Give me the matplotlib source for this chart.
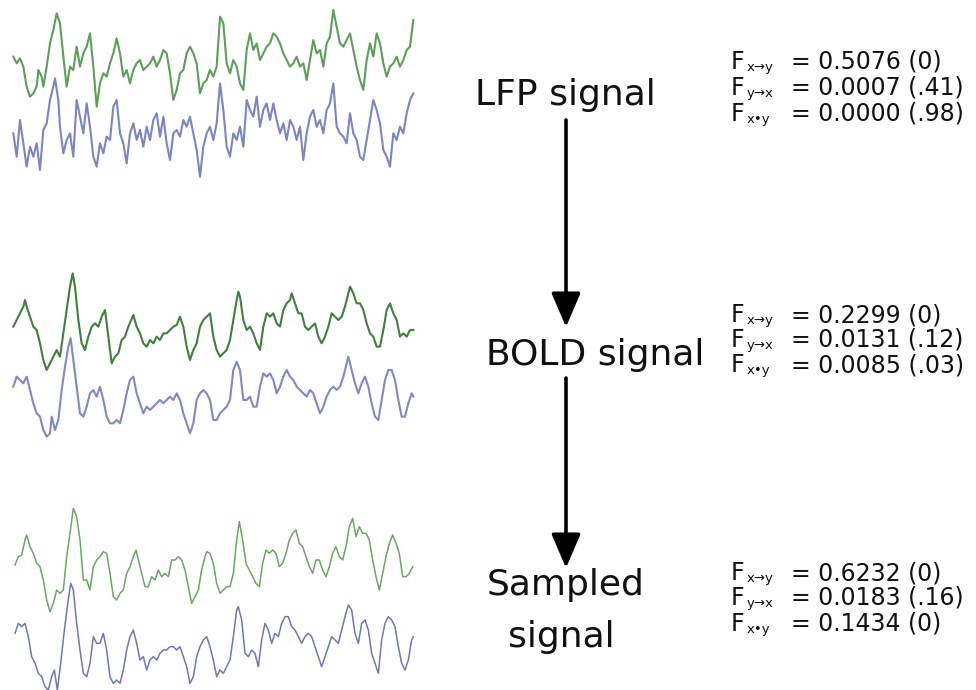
import matplotlib
matplotlib.use("Agg")
import matplotlib.pyplot as plt
import numpy as np

# traces: (sample position, level), level grows downward
lfp_x = [(40,170),(50,190),(60,175),(70,200),(80,260),(90,290),(100,280),(110,260),(115,210),(125,230),
         (130,260),(140,200),(150,130),(160,90),(170,40),(180,70),(190,170),(200,260),(210,200),(220,210),
         (230,140),(240,200),(250,160),(260,140),(270,100),(280,200),(290,320),(300,250),(310,220),(320,230),
         (330,190),(340,160),(350,115),(360,160),(370,230),(380,210),(390,250),(400,210),(410,190),(420,180),
         (430,210),(440,200),(450,190),(460,170),(470,200),(480,180),(490,150),(500,160),(510,220),(520,300),
         (530,270),(540,220),(550,210),(560,160),(570,140),(580,160),(590,190),(600,280),(610,250),(620,240),
         (630,210),(640,230),(650,200),(660,50),(670,70),(680,190),(690,220),(700,180),(710,200),(720,250),
         (730,270),(740,150),(750,100),(760,150),(770,130),(780,180),(790,160),(800,140),(810,130),(820,100),
         (830,110),(840,130),(850,160),(860,180),(870,200),(880,190),(890,170),(900,200),(910,190),(920,240),
         (930,180),(940,120),(950,160),(960,150),(970,200),(980,130),(990,110),(1000,30),(1010,80),(1020,130),
         (1030,140),(1040,120),(1050,100),(1060,150),(1070,200),(1080,240),(1090,270),(1100,180),(1110,130),
         (1120,170),(1130,100),(1140,130),(1150,190),(1160,230),(1170,200),(1180,190),(1190,170),(1200,200),
         (1210,180),(1220,150),(1230,140),(1240,60)]
lfp_y = [(40,400),(50,470),(60,360),(70,430),(80,500),(90,440),(100,470),(110,430),(120,510),(130,390),
         (140,370),(150,300),(160,260),(165,235),(175,300),(180,380),(190,460),(200,420),(210,400),(220,470),
         (230,300),(240,350),(250,400),(260,310),(270,380),(280,470),(290,500),(300,430),(310,460),(320,410),
         (330,420),(340,320),(350,300),(360,400),(370,430),(380,490),(390,400),(400,370),(410,420),(420,390),
         (430,440),(440,380),(450,420),(460,360),(470,340),(480,410),(490,350),(500,430),(510,480),(520,400),
         (530,390),(540,410),(550,360),(560,380),(570,350),(580,400),(590,450),(600,530),(610,440),(620,400),
         (630,380),(640,420),(650,370),(660,250),(670,330),(680,440),(690,470),(700,400),(710,420),(720,380),
         (730,440),(740,300),(750,330),(760,350),(770,290),(780,380),(790,330),(800,310),(810,360),(820,310),
         (830,360),(840,400),(850,370),(860,420),(870,360),(880,380),(890,420),(900,380),(910,480),(920,400),
         (930,350),(940,330),(950,380),(960,360),(970,400),(980,330),(990,310),(1000,250),(1010,380),(1020,400),
         (1030,410),(1040,430),(1050,340),(1060,400),(1070,420),(1080,470),(1090,480),(1100,420),(1110,360),
         (1120,300),(1130,330),(1140,370),(1150,450),(1160,470),(1170,500),(1180,400),(1190,420),(1200,380),
         (1210,400),(1220,340),(1230,300),(1240,280)]

bold_x = [(40,200),(50,180),(60,160),(70,140),(75,120),(80,140),(90,170),(100,200),(110,210),(120,250),
          (130,300),(140,330),(150,310),(160,290),(170,270),(180,290),(190,220),(200,150),(210,80),(218,40),
          (225,80),(235,180),(245,250),(255,270),(265,230),(275,200),(285,190),(295,200),(305,170),(315,150),
          (325,230),(335,310),(345,290),(355,280),(365,240),(375,230),(385,200),(400,165),(410,200),(420,220),
          (430,250),(440,260),(450,240),(460,250),(470,230),(480,240),(490,220),(500,220),(510,210),(520,200),
          (530,195),(540,170),(550,200),(560,260),(570,300),(580,270),(590,250),(600,200),(610,180),(620,170),
          (630,160),(640,230),(650,270),(660,290),(670,280),(680,270),(690,240),(700,180),(710,120),(715,95),
          (720,110),(730,180),(740,210),(750,200),(760,220),(770,250),(780,270),(790,200),(800,160),(810,170),
          (820,160),(830,190),(840,200),(850,150),(860,130),(870,120),(875,100),(885,130),(895,160),(905,160),
          (915,200),(925,210),(935,200),(945,190),(955,230),(965,250),(975,230),(985,200),(995,160),(1005,170),
          (1015,180),(1025,170),(1035,140),(1045,100),(1050,80),(1060,100),(1070,130),(1080,130),(1090,150),
          (1100,190),(1110,220),(1120,230),(1130,260),(1140,260),(1150,210),(1160,150),(1170,130),(1180,160),
          (1190,180),(1200,230),(1210,220),(1220,230),(1230,210),(1240,210)]
bold_y = [(40,380),(50,350),(60,360),(70,370),(80,350),(90,390),(100,430),(110,460),(120,470),(130,510),
          (140,530),(150,520),(155,470),(165,510),(175,480),(185,390),(195,320),(205,260),(212,235),(220,300),
          (230,380),(240,460),(250,470),(260,440),(270,400),(280,390),(290,410),(300,380),(310,420),(320,470),
          (330,490),(340,490),(350,480),(360,490),(370,450),(380,400),(390,360),(400,350),(410,400),(420,430),
          (430,460),(440,440),(450,450),(460,440),(470,430),(480,420),(490,430),(500,420),(510,410),(520,420),
          (530,400),(540,420),(550,460),(560,490),(570,520),(580,490),(590,420),(600,400),(610,390),(620,400),
          (630,420),(640,480),(650,480),(660,460),(670,450),(680,440),(690,420),(700,330),(710,305),(720,330),
          (730,420),(740,420),(750,410),(760,440),(770,440),(780,380),(790,340),(800,350),(810,340),(820,360),
          (830,400),(840,380),(850,350),(860,330),(870,350),(880,360),(890,380),(900,390),(910,400),(920,410),
          (930,390),(940,400),(950,430),(960,460),(970,440),(980,410),(990,390),(1000,380),(1010,390),(1020,380),
          (1030,350),(1040,310),(1045,290),(1055,330),(1065,370),(1075,400),(1085,370),(1095,350),(1105,380),
          (1115,430),(1125,470),(1135,480),(1145,420),(1155,360),(1165,330),(1175,330),(1185,360),(1195,420),
          (1205,470),(1215,470),(1225,430),(1235,400),(1240,410)]

samp_x = [(45,225),(55,200),(65,195),(75,150),(80,135),(90,170),(100,190),(110,220),(120,230),(130,270),
          (140,330),(150,365),(160,340),(170,300),(180,310),(190,300),(200,200),(210,130),(220,55),(230,80),
          (240,150),(250,270),(260,270),(270,300),(280,230),(290,210),(300,200),(310,185),(320,190),(330,250),
          (340,320),(350,330),(360,310),(370,300),(380,250),(390,230),(400,200),(408,180),(415,210),(425,250),
          (435,290),(445,290),(455,260),(465,270),(475,240),(485,260),(495,250),(505,260),(515,210),(525,210),
          (535,200),(545,210),(555,240),(565,290),(575,340),(585,320),(595,300),(605,240),(615,200),(620,185),
          (630,190),(640,220),(650,280),(660,310),(670,300),(680,290),(690,290),(700,250),(710,150),(718,95),
          (728,150),(738,220),(748,240),(758,260),(768,280),(778,290),(788,220),(798,180),(808,190),(818,180),
          (828,190),(838,230),(848,220),(858,190),(868,150),(878,130),(888,120),(898,160),(908,170),(918,200),
          (928,230),(938,250),(948,210),(958,210),(968,240),(978,260),(988,230),(998,190),(1008,170),(1018,200),
          (1028,210),(1038,170),(1048,110),(1058,85),(1068,140),(1078,110),(1088,130),(1098,130),(1108,150),
          (1118,210),(1128,260),(1138,300),(1148,250),(1158,200),(1168,160),(1178,135),(1188,160),(1198,190),
          (1208,260),(1218,260),(1228,250),(1238,230)]
samp_y = [(45,430),(55,400),(65,410),(75,400),(85,440),(95,500),(105,520),(115,550),(125,560),(135,590),
          (145,600),(155,560),(163,540),(172,600),(182,520),(192,430),(202,350),(212,280),(220,300),(230,400),
          (240,480),(250,550),(260,560),(270,520),(280,440),(290,460),(300,460),(310,430),(320,480),(330,560),
          (340,580),(350,570),(360,580),(370,540),(380,480),(390,440),(400,420),(410,460),(420,510),(430,500),
          (440,540),(450,510),(460,500),(470,510),(480,490),(490,480),(500,480),(510,470),(520,470),(530,480),
          (540,470),(550,500),(560,530),(570,580),(580,560),(590,500),(600,470),(610,450),(620,440),(630,470),
          (640,510),(650,560),(660,540),(670,550),(680,530),(690,510),(700,440),(710,360),(715,350),(725,390),
          (735,490),(745,500),(755,480),(765,490),(775,530),(785,450),(795,400),(805,420),(815,460),(825,430),
          (835,440),(845,400),(855,380),(865,380),(875,410),(885,420),(895,440),(905,460),(915,440),(925,430),
          (935,440),(945,470),(955,500),(965,530),(975,500),(985,470),(995,440),(1005,450),(1015,460),(1025,420),
          (1035,380),(1045,345),(1055,360),(1065,430),(1075,460),(1085,400),(1095,390),(1105,420),(1115,490),
          (1125,520),(1135,550),(1145,450),(1155,400),(1165,380),(1175,390),(1185,410),(1195,470),(1205,520),
          (1215,540),(1225,510),(1235,450),(1240,440)]

stage_labels = ["LFP signal", "BOLD signal", "Sampled", "signal"]
f_names = ["x\u2192y", "y\u2192x", "x\u2022y"]
f_values = [[0.5076, 0.0007, 0.0000],
            [0.2299, 0.0131, 0.0085],
            [0.6232, 0.0183, 0.1434]]
p_values = [["0", ".41", ".98"],
            ["0", ".12", ".03"],
            ["0", ".16", "0"]]

fig = plt.figure(figsize=(9.76, 6.90), dpi=100)
ax = fig.add_axes([0, 0, 1, 1])
ax.set_xlim(0, 976)
ax.set_ylim(690, 0)
ax.axis("off")

rows = [
    (lfp_x, lfp_y, 0, "#5c9f58", "#7c85c3", 1.5),
    (bold_x, bold_y, 260, "#3f803d", "#8189c2", 1.5),
    (samp_x, samp_y, 490, "#69a862", "#7078b3", 1.1),
]
for tx, ty, off, cg, cb, lw in rows:
    for pts, col in ((tx, cg), (ty, cb)):
        a = np.array(pts, dtype=float)
        ax.plot(a[:, 0] / 3, a[:, 1] / 3 + off, color=col, lw=lw, solid_joinstyle="round")

font = "DejaVu Sans"
label_pos = [(565, 105), (595, 365), (566, 595), (561, 647)]
for txt, (lx, ly) in zip(stage_labels, label_pos):
    ax.text(lx, ly, txt, fontsize=26, ha="center", va="baseline", family=font, color="#111")

arrow_style = "-|>,head_length=1.05,head_width=0.45"
for y0, y1 in ((120, 327), (378, 568)):
    ax.annotate("", xy=(566, y1), xytext=(566, y0),
                arrowprops=dict(arrowstyle=arrow_style, lw=2.6, color="black",
                                mutation_scale=20, shrinkA=0, shrinkB=0))

baselines = [[69, 95, 121], [322, 347, 372], [580, 605, 631]]
for k in range(3):
    for j in range(3):
        yb = baselines[k][j]
        ax.text(731, yb, "F", fontsize=17, va="baseline", family=font, color="#111")
        ax.text(747, yb + 2, f_names[j], fontsize=9.5, va="baseline", family=font, color="#111")
        ax.text(791, yb, "= %.4f (%s)" % (f_values[k][j], p_values[k][j]),
                fontsize=17, va="baseline", family=font, color="#111")

fig.savefig("out.png", dpi=100, facecolor="white")
